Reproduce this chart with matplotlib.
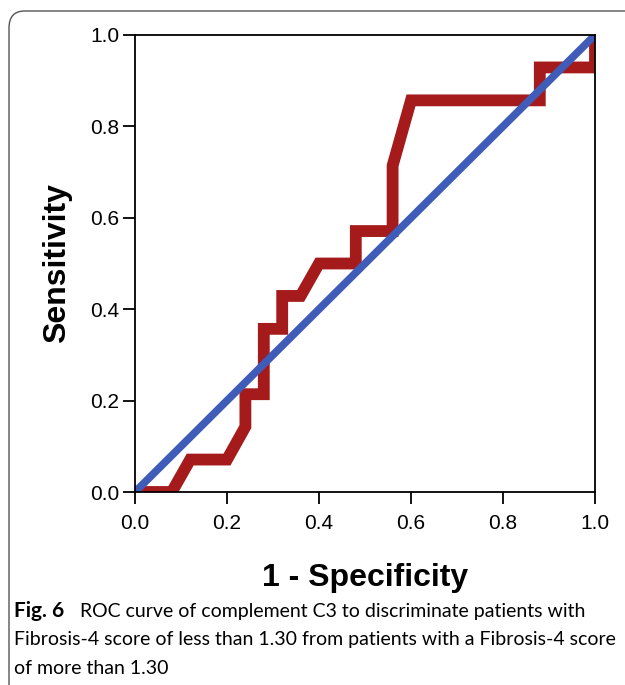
import numpy as np
import matplotlib.pyplot as plt
from matplotlib.patches import FancyBboxPatch

# ROC curve points (25 negatives, 14 positives)
fpr = [0.0, 0.08, 0.12, 0.20, 0.24, 0.24, 0.28, 0.28, 0.32, 0.32, 0.36, 0.40,
       0.48, 0.48, 0.56, 0.56, 0.60, 0.88, 0.88, 1.0, 1.0]
tpr = [0.0, 0.0, 0.071, 0.071, 0.143, 0.214, 0.214, 0.357, 0.357, 0.429, 0.429,
       0.5, 0.5, 0.571, 0.571, 0.714, 0.857, 0.857, 0.929, 0.929, 1.0]
ref_line = [0.0, 1.0]
ticks = [0.0, 0.2, 0.4, 0.6, 0.8, 1.0]
tick_labels = ['0.0', '0.2', '0.4', '0.6', '0.8', '1.0']

W, H = 625, 685
fig = plt.figure(figsize=(W / 100, H / 100), dpi=100)

# rounded frame around the figure (open to the right/bottom edge)
box = FancyBboxPatch((9 / W, -0.05), 1.2, 1 - 11 / H + 0.05,
                     boxstyle='round,pad=0,rounding_size=0.025',
                     transform=fig.transFigure, fill=False,
                     edgecolor='#555555', linewidth=1.0)
fig.patches.append(box)

ax = fig.add_axes([135 / W, 1 - 492 / H, 460 / W, 457 / H])
ax.plot(fpr, tpr, color='#A51A1A', lw=8.5, solid_joinstyle='miter',
        solid_capstyle='butt')
ax.plot(ref_line, ref_line, color='#3F5CB8', lw=5.5, solid_capstyle='butt')
ax.set_xlim(0, 1)
ax.set_ylim(0, 1)
ax.set_xticks(ticks)
ax.set_yticks(ticks)
ax.set_xticklabels(tick_labels, family='Liberation Sans', fontsize=15)
ax.set_yticklabels(tick_labels, family='Liberation Sans', fontsize=15)
ax.tick_params(direction='out', length=8.5, width=1.3, pad=3)
ax.tick_params(axis='x', pad=7)
for s in ax.spines.values():
    s.set_linewidth(1.3)
ax.set_xlabel('1 - Specificity', family='Liberation Sans', fontweight='bold',
              fontsize=23, labelpad=22)
ax.set_ylabel('Sensitivity', family='Liberation Sans', fontweight='bold',
              fontsize=23, labelpad=13)

# caption
cap_font = 'Lato'
cap_size = 14
fig.text(14 / W, 1 - 611 / H, 'Fig. 6', family=cap_font, fontweight='bold',
         fontsize=15, va='center', ha='left')
fig.text(80 / W, 1 - 611 / H,
         'ROC curve of complement C3 to discriminate patients with',
         family=cap_font, fontsize=cap_size, va='center', ha='left')
fig.text(14 / W, 1 - 640 / H,
         'Fibrosis-4 score of less than 1.30 from patients with a Fibrosis-4 score',
         family=cap_font, fontsize=cap_size, va='center', ha='left')
fig.text(14 / W, 1 - 668 / H, 'of more than 1.30',
         family=cap_font, fontsize=cap_size, va='center', ha='left')

fig.savefig('out.png', dpi=100)
